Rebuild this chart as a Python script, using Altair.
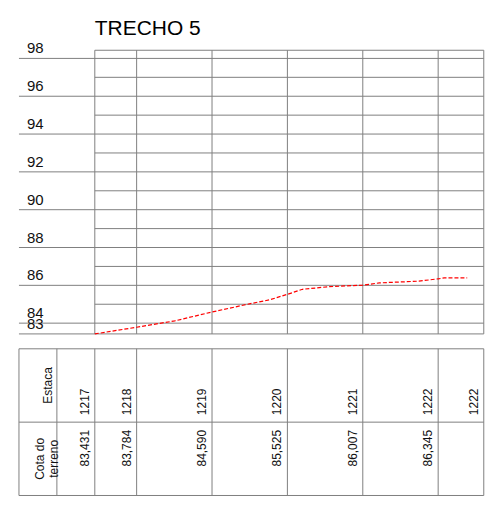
import altair as alt
import pandas as pd

# ---------------- data ----------------
station_labels = ["1217", "1218", "1219", "1220", "1221", "1222", "1222"]
station_dist = [0.0, 11.1, 31.1, 51.1, 71.1, 91.1, 103.2]
cota_labels = ["83,431", "83,784", "84,590", "85,525", "86,007", "86,345", ""]

profile_dist = [0.0, 11.1, 21.2, 31.1, 41.0, 46.3, 51.1, 55.1, 62.2, 71.1, 75.5, 86.0, 91.1, 92.7, 98.8]
profile_elev = [83.431, 83.784, 84.12, 84.590, 85.02, 85.23, 85.525, 85.79, 85.93, 86.007,
                86.13, 86.22, 86.345, 86.39, 86.39]

major_levels = [84, 86, 88, 90, 92, 94, 96, 98]
minor_levels = [85, 87, 89, 91, 93, 95, 97]
y_bottom = 83.431
y_top = 98.431
tick_values = [83.431, 84, 86, 88, 90, 92, 94, 96, 98]
tick_labels = ["83", "84", "86", "88", "90", "92", "94", "96", "98"]
row_headers = ["Estaca", "Cota do\nterreno"]

# ---------------- layout ----------------
W = 477
TOP_H = 333
TBL_H = 156
X_DOMAIN = [-23.03, 103.26]
Y_DOMAIN = [83.066, 100.639]
T_DOMAIN = [-0.0136, 2.109]
X_LEFT = -20.12
X_LABELCOL = -10.06
X_END = station_dist[-1]
GRID = "#808080"
FONT = "Liberation Sans, Arial, sans-serif"
TXT = "#111111"

xs = alt.X("x:Q", scale=alt.Scale(domain=X_DOMAIN, nice=False, zero=False), axis=None)
ys = alt.Y("y:Q", scale=alt.Scale(domain=Y_DOMAIN, nice=False, zero=False), axis=None)

# horizontal grid lines
h_rows = []
for v in major_levels + [y_bottom]:
    h_rows.append({"x": X_LEFT, "x2": X_END, "y": v})
for v in minor_levels + [y_top]:
    h_rows.append({"x": station_dist[0], "x2": X_END, "y": v})
hrules = alt.Chart(pd.DataFrame(h_rows)).mark_rule(color=GRID, strokeWidth=1).encode(
    x=xs, x2="x2:Q", y=ys)

vrules = alt.Chart(pd.DataFrame({"x": station_dist, "y": [y_bottom] * len(station_dist),
                                 "y2": [y_top] * len(station_dist)})).mark_rule(
    color=GRID, strokeWidth=1).encode(x=xs, y=ys, y2="y2:Q")

profile = alt.Chart(pd.DataFrame({"x": profile_dist, "y": profile_elev,
                                  "i": list(range(len(profile_dist)))})).mark_line(
    color="#ff0000", strokeDash=[4, 2], strokeWidth=1.2).encode(x=xs, y=ys, order="i:Q")

ylabels = alt.Chart(pd.DataFrame({"x": [X_LEFT] * len(tick_values), "y": tick_values,
                                  "t": tick_labels})).mark_text(
    align="left", baseline="alphabetic", dx=8, dy=-5, font=FONT, fontSize=15,
    color=TXT).encode(x=xs, y=ys, text="t:N")

title = alt.Chart(pd.DataFrame({"t": ["TRECHO 5"]})).mark_text(
    align="left", baseline="alphabetic", font=FONT,
    fontSize=21, color="#000000").encode(x=alt.value(87), y=alt.value(27), text="t:N")

top = alt.layer(hrules, vrules, profile, ylabels, title).properties(width=W, height=TOP_H)

# ---------------- table ----------------
txs = alt.X("x:Q", scale=alt.Scale(domain=X_DOMAIN, nice=False, zero=False), axis=None)
tys = alt.Y("y:Q", scale=alt.Scale(domain=T_DOMAIN, nice=False, zero=False), axis=None)

t_h = alt.Chart(pd.DataFrame({"x": [X_LEFT] * 3, "x2": [X_END] * 3, "y": [0, 1, 2]})).mark_rule(
    color=GRID, strokeWidth=1).encode(x=txs, x2="x2:Q", y=tys)
vx = [X_LEFT, X_LABELCOL] + station_dist
t_v = alt.Chart(pd.DataFrame({"x": vx, "y": [0] * len(vx), "y2": [2] * len(vx)})).mark_rule(
    color=GRID, strokeWidth=1).encode(x=txs, y=tys, y2="y2:Q")

# rotated texts: dy (in the text's own frame) moves them left on screen
row1 = alt.Chart(pd.DataFrame({"x": station_dist, "y": [1.095] * len(station_dist),
                               "t": station_labels})).mark_text(
    angle=270, align="left", baseline="middle", dy=-10, font=FONT, fontSize=12,
    color=TXT).encode(x=txs, y=tys, text="t:N")
row2 = alt.Chart(pd.DataFrame({"x": station_dist, "y": [0.395] * len(station_dist),
                               "t": cota_labels})).mark_text(
    angle=270, align="left", baseline="middle", dy=-10, font=FONT, fontSize=12,
    color=TXT).encode(x=txs, y=tys, text="t:N")
heads = alt.Chart(pd.DataFrame({"x": [-12.44, -14.56], "y": [1.5, 0.5],
                                "t": row_headers})).mark_text(
    angle=270, align="center", baseline="middle", lineBreak="\n", lineHeight=14,
    font=FONT, fontSize=12, color=TXT).encode(x=txs, y=tys, text="t:N")

table = alt.layer(t_h, t_v, row1, row2, heads).properties(width=W, height=TBL_H)

chart = alt.vconcat(top, table, spacing=0).resolve_scale(
    x="independent", y="independent").configure_view(stroke=None).properties(padding=0)

chart.save("out.html", embed_options={"renderer": "svg", "actions": False})
